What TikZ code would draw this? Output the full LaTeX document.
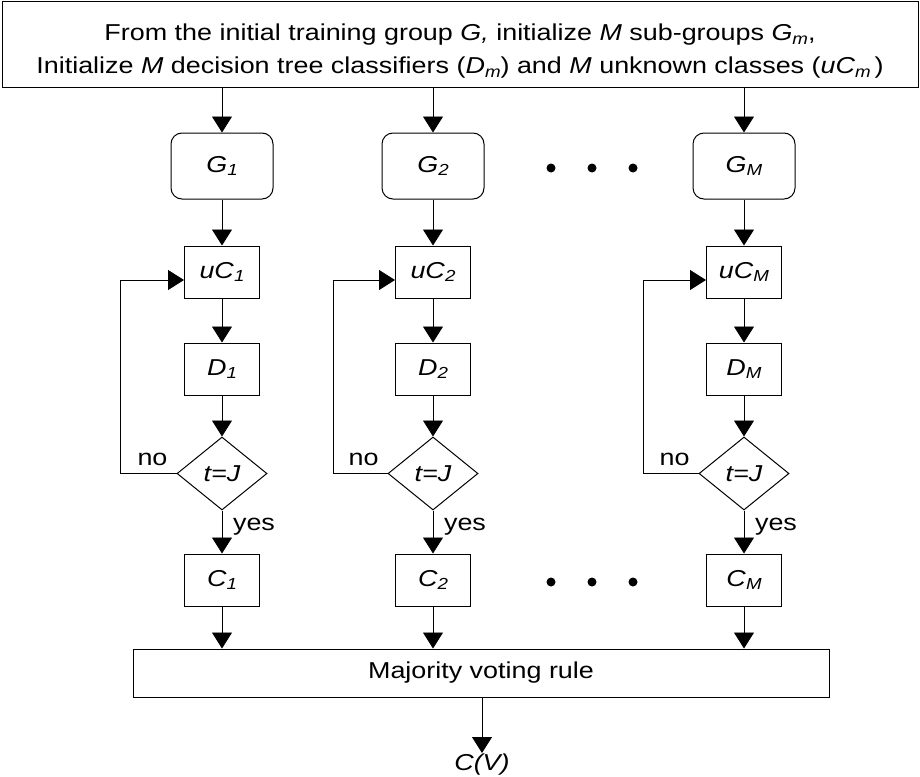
\documentclass[tikz,border=0pt]{standalone}
\usepackage{fontspec}
\setmainfont[FakeStretch=1.17]{Liberation Sans}
\usetikzlibrary{arrows.meta,shapes.geometric,calc}
\newcommand{\ssub}[1]{\raisebox{-0.3ex}{\fontsize{16}{16}\selectfont\itshape #1}}
\begin{document}
\begin{tikzpicture}[x=1pt,y=-1pt,
  every node/.style={font=\fontsize{23}{33}\selectfont},
  box/.style={draw,line width=1pt,minimum width=75pt,minimum height=52pt,inner sep=0pt},
  gbox/.style={draw,line width=1pt,rounded corners=11pt,minimum width=102pt,minimum height=66pt,inner sep=0pt},
  dia/.style={draw,line width=1pt,diamond,minimum width=90pt,minimum height=73pt,inner sep=0pt,aspect=1.23},
  wide/.style={draw,line width=1pt,inner sep=0pt},
  arr/.style={line width=0.9pt,-{Triangle[width=20pt,length=16pt]}},
  lbl/.style={inner sep=0pt}
]
\useasboundingbox (0,0) rectangle (920,776);
% top box
\node[wide,minimum width=916pt,minimum height=85pt] (top) at (460,44.5) {};
\node[lbl,align=center] (toptext) at (460,51)
  {From the initial training group \textit{G,} initialize \textit{M} sub-groups \textit{G}\ssub{m},\\
   Initialize \textit{M} decision tree classifiers (\textit{D}\ssub{m}) and \textit{M} unknown classes (\textit{uC}\ssub{m}\,)};
% columns
\foreach \c/\x/\s/\lx in {1/222/1/120, 2/433/2/333, M/744/M/643} {
  \node[gbox] (g\c) at (\x,166) {\textit{G}\ssub{\s}};
  \node[box] (u\c) at (\x,272) {\textit{uC}\ssub{\s}};
  \node[box] (d\c) at (\x,369) {\textit{D}\ssub{\s}};
  \node[dia] (t\c) at (\x,473.5) {\textit{t=J}};
  \node[box] (c\c) at (\x,580) {\textit{C}\ssub{\s}};
  \coordinate (lb\c) at (\lx,473.5);
  \coordinate (lt\c) at (\lx,280);
  \node[lbl] (no\c) at ($(t\c.west)+(-24,-14)$) {no};
  \node[lbl] (yes\c) at ($(t\c.south)+(32,16)$) {yes};
}
\node[wide,minimum width=696pt,minimum height=48pt] (maj) at (481,673) {Majority voting rule};
\coordinate (cvtip) at (482,753);
\node[lbl,anchor=south] (cv) at (482,775) {\textit{C(V)}};
% arrows
\foreach \c in {1,2,M} {
  \draw[arr] (top.south -| g\c) -- (g\c);
  \draw[arr] (g\c) -- (u\c);
  \draw[arr] (u\c) -- (d\c);
  \draw[arr] (d\c) -- (t\c);
  \draw[arr] (t\c) -- (c\c);
  \draw[arr] (c\c) -- (c\c |- maj.north);
  \draw[arr] (t\c.west) -- (lb\c) -- (lt\c) -- (lt\c -| u\c.west);
}
\draw[arr] (maj.south -| cvtip) -- (cvtip);
% dots
\foreach \y in {168,582} {
  \foreach \x in {551,592,633} {
    \fill (\x,\y) circle (4.5pt);
  }
}
\end{tikzpicture}
\end{document}
